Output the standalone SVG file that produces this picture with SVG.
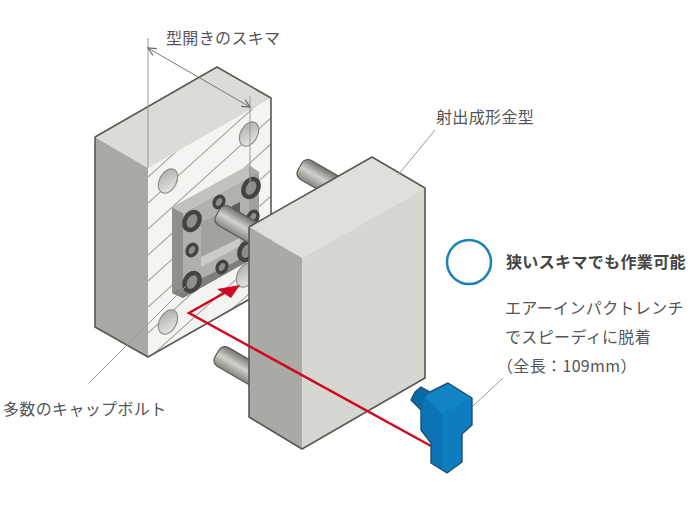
<svg xmlns="http://www.w3.org/2000/svg" width="691" height="519" viewBox="0 0 691 519">
<style>
text{font-family:"Noto Sans CJK JP","Noto Sans",sans-serif;font-size:16px;fill:#555;letter-spacing:.35px}
.edge{stroke:#5a5854;stroke-width:1.6;stroke-linejoin:round;fill:none}
.leader{stroke:#9a9a96;stroke-width:1;fill:none}
.hole{fill:url(#holeGrad);stroke:#8f8f8a;stroke-width:1.2}
.bolt{fill:#8f8e8a;stroke:#454341;stroke-width:4.5}
.boltS{fill:#8f8e8a;stroke:#454341;stroke-width:3.5}
.pin{fill:url(#pinGrad);stroke:#5c5a57;stroke-width:1.2}
</style>
<defs>
<linearGradient id="holeGrad" x1="0" y1="0" x2="1" y2="1"><stop offset="0" stop-color="#a8a8a3"/><stop offset="1" stop-color="#f0f0ec"/></linearGradient>
<linearGradient id="pinGrad" x1="0" y1="0" x2="0" y2="1"><stop offset="0" stop-color="#74726d"/><stop offset=".5" stop-color="#d2d1cb"/><stop offset="1" stop-color="#86847f"/></linearGradient>
<clipPath id="faceClip"><polygon points="148,168 271,98 271,287 148,357"/></clipPath>
<marker id="open" viewBox="0 0 10 10" refX="9" refY="5" markerWidth="10" markerHeight="10" orient="auto-start-reverse" markerUnits="userSpaceOnUse"><path d="M1,1 9,5 1,9" fill="none" stroke="#666" stroke-width="1.2"/></marker>
</defs>
<rect width="691" height="519" fill="#fff"/>

<g id="left-block">
<polygon points="148,168 271,98 271,287 148,357" fill="#f4f5f3"/>
<polygon points="95,137 148,168 148,357 95,327" fill="#a9a9a5"/>
<polygon points="95,137 217,67 271,98 148,168" fill="#dcdcd6"/>
<path clip-path="url(#faceClip)" d="M148,177 271,66M148,203 271,92M148,229 271,118M148,255 271,144M148,281 271,170M148,307 271,196M148,333 271,222M148,359 271,248M148,385 271,274M148,411 271,300M148,437 271,326" stroke="#a8a8a2" stroke-width="1.1" fill="none"/>
<ellipse class="hole" cx="168" cy="181" rx="8.5" ry="13" transform="rotate(28 168 181)"/>
<ellipse class="hole" cx="249" cy="134" rx="8.5" ry="13" transform="rotate(28 249 134)"/>
<ellipse class="hole" cx="168" cy="322" rx="8.5" ry="13" transform="rotate(28 168 322)"/>
<ellipse class="hole" cx="246" cy="275" rx="8.5" ry="13" transform="rotate(28 246 275)"/>
<path class="edge" d="M95,137 217,67 271,98V287M95,137V327L148,357 271,287"/>
</g>

<g id="plate">
<polygon points="172,207 183,213 183,298 172,293" fill="#8f8f8b"/>
<polygon points="172,207 249,165 259,172 183,213" fill="#c2c2bd"/>
<polygon points="183,213 259,172 259,255 183,298" fill="#b0b0ac"/>
<polygon points="249,165 259,172 259,255 249,260" fill="#8f8f8b" opacity=".45"/>
<polygon points="201,257 240,236 240,246 201,267" fill="#cbcbc7"/>
<polygon points="201,223 240,202 240,238 201,257" fill="#a2a29e"/>
<polygon points="232,206 240,202 240,238 232,228" fill="#5f5e5a"/>
<polygon points="172,293 183,298 259,255 259,250" fill="#7f7e7a"/>
</g>

<g id="bolts">
<ellipse class="bolt" cx="192" cy="221" rx="7" ry="9.5" transform="rotate(28 192 221)"/>
<ellipse class="bolt" cx="192" cy="282" rx="7" ry="9.5" transform="rotate(28 192 282)"/>
<ellipse class="bolt" cx="251" cy="188" rx="7" ry="9.5" transform="rotate(28 251 188)"/>
<ellipse class="bolt" cx="247" cy="251" rx="7" ry="9.5" transform="rotate(28 247 251)"/>
<ellipse class="boltS" cx="219" cy="202" rx="4.5" ry="6" transform="rotate(28 219 202)"/>
<ellipse class="boltS" cx="192" cy="250" rx="4.5" ry="6" transform="rotate(28 192 250)"/>
<ellipse class="boltS" cx="222" cy="267" rx="4.5" ry="6" transform="rotate(28 222 267)"/>
<ellipse class="boltS" cx="253" cy="217" rx="4.5" ry="6" transform="rotate(28 253 217)"/>
</g>

<g id="pins">
<rect class="pin" x="-7" y="-11" width="50" height="22" rx="7" transform="translate(306,170) rotate(30)"/>
<rect class="pin" x="-7" y="-11" width="50" height="22" rx="7" transform="translate(224,216) rotate(30)"/>
<rect class="pin" x="-7" y="-11" width="50" height="22" rx="7" transform="translate(223,357) rotate(30)"/>
</g>

<g id="right-block">
<polygon points="249,227 372,157 425,188 302,258" fill="#e0e0da"/>
<polygon points="249,227 302,258 302,449 249,417" fill="#a9a9a5"/>
<polygon points="302,258 425,188 425,378 302,449" fill="#d7d7d1"/>
<path class="edge" d="M249,227 372,157 425,188V378L302,449 249,417V227"/>
</g>

<g id="connectors">
<path class="leader" d="M148,38V168M250,96V190"/>
<path d="M148,48 250,107" fill="none" stroke="#777" stroke-width="1" marker-start="url(#open)" marker-end="url(#open)"/>
<path class="leader" d="M435,130 398,175"/>
<path class="leader" d="M90,382 186,286"/>
<path class="leader" d="M473,406 503,378"/>
<path d="M226,292 189,313 431,446" fill="none" stroke="#cf0a20" stroke-width="2.5"/>
<polygon points="240,285 217,289 231,298" fill="#cf0a20"/>
</g>

<g id="wrench">
<path d="M421,387 430,392 448,383 472,398V425L462,434V462L447,473 431,463V443L421,430V410L411,400 415,392Z" fill="#0d7dbf"/>
<polygon points="425,397 448,383 472,398 442,414" fill="#1284c6"/>
<polygon points="425,397 442,414 442,442 431,443 421,430 421,410" fill="#0b74b4"/>
<polygon points="411,400 415,392 421,387 430,392 425,397 421,410" fill="#0a6aa6"/>
<polygon points="431,443 442,442 442,470 447,473 431,463" fill="#0b74b4"/>
<path d="M421,387 430,392 448,383 472,398V425L462,434V462L447,473 431,463V443L421,430V410L411,400 415,392Z" fill="none" stroke="#1c4f72" stroke-width="1.4" stroke-linejoin="round"/>
</g>

<g id="labels">
<text x="166" y="44">型開きのスキマ</text>
<text x="436" y="123">射出成形金型</text>
<circle cx="469" cy="262" r="22" fill="none" stroke="#1a82b4" stroke-width="2.5"/>
<text x="506" y="268" style="font-weight:700;fill:#444">狭いスキマでも作業可能</text>
<text x="505" y="314">エアーインパクトレンチ</text>
<text x="505" y="343">でスピーディに脱着</text>
<text x="497" y="372">（全長：109mm）</text>
<text x="3" y="415">多数のキャップボルト</text>
</g>
</svg>
